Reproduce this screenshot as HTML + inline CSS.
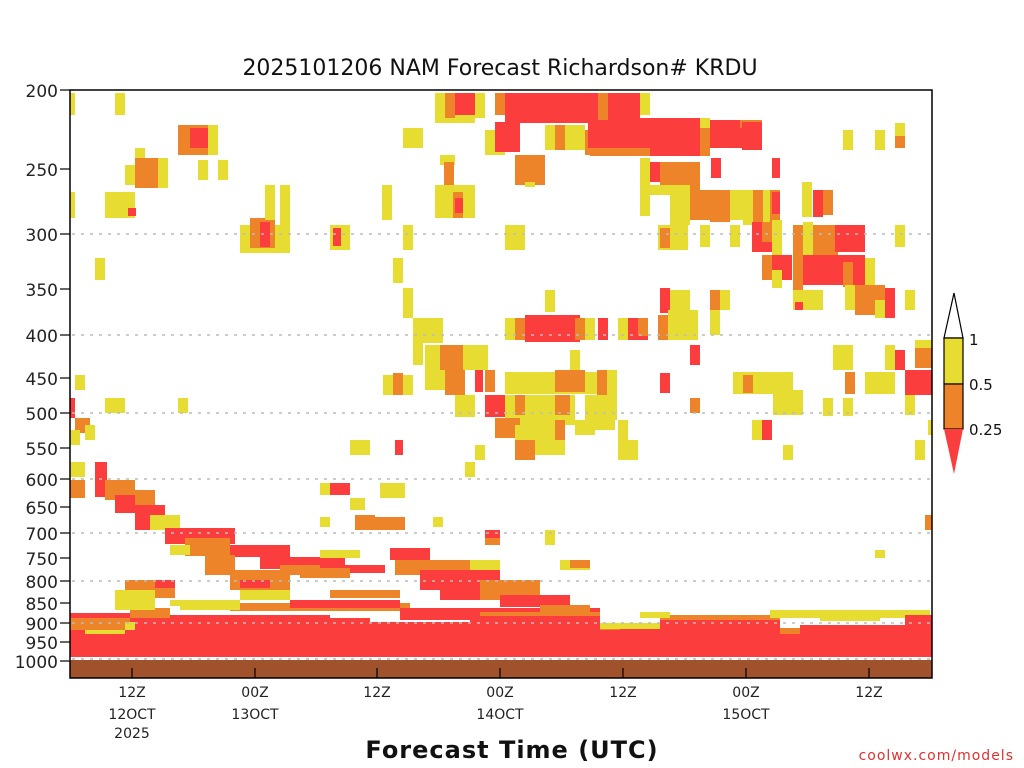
<!DOCTYPE html>
<html><head><meta charset="utf-8"><style>
body{margin:0;background:#fff;}
svg{display:block;font-family:"DejaVu Sans","Liberation Sans",sans-serif;}
.r{fill:#fc3d3d}.o{fill:#ee842a}.y{fill:#e6dc32}
</style></head><body>
<svg width="1024" height="768" viewBox="0 0 1024 768">
<text x="500" y="75" font-size="22" text-anchor="middle" fill="#111">2025101206 NAM Forecast Richardson# KRDU</text>
<g>
<rect class="r" x="70" y="628" width="862" height="31"/>
<rect class="o" x="70" y="618" width="60" height="12"/>
<rect class="r" x="70" y="613" width="60" height="5"/>
<rect class="y" x="85" y="630" width="40" height="4"/>
<rect class="r" x="130" y="615" width="200" height="15"/>
<rect class="o" x="130" y="608" width="40" height="10"/>
<rect class="y" x="125" y="622" width="10" height="8"/>
<rect class="r" x="170" y="618" width="200" height="10"/>
<rect class="r" x="330" y="622" width="180" height="8"/>
<rect class="o" x="230" y="603" width="180" height="8"/>
<rect class="y" x="170" y="600" width="60" height="6"/>
<rect class="r" x="400" y="608" width="200" height="12"/>
<rect class="o" x="480" y="612" width="120" height="8"/>
<rect class="r" x="470" y="616" width="130" height="14"/>
<rect class="o" x="600" y="625" width="20" height="8"/>
<rect class="y" x="600" y="623" width="180" height="6"/>
<rect class="r" x="600" y="630" width="200" height="12"/>
<rect class="r" x="660" y="620" width="120" height="10"/>
<rect class="o" x="660" y="615" width="120" height="5"/>
<rect class="y" x="640" y="612" width="30" height="6"/>
<rect class="y" x="770" y="610" width="160" height="8"/>
<rect class="o" x="780" y="628" width="100" height="6"/>
<rect class="r" x="800" y="625" width="132" height="15"/>
<rect class="r" x="905" y="615" width="27" height="20"/>
<rect class="y" x="820" y="615" width="60" height="6"/>
<rect class="o" x="70" y="480" width="15" height="18"/>
<rect class="r" x="95" y="462" width="12" height="35"/>
<rect class="o" x="105" y="480" width="30" height="20"/>
<rect class="r" x="115" y="495" width="25" height="18"/>
<rect class="o" x="135" y="490" width="20" height="15"/>
<rect class="r" x="135" y="505" width="30" height="25"/>
<rect class="y" x="150" y="515" width="30" height="15"/>
<rect class="r" x="165" y="528" width="70" height="16"/>
<rect class="o" x="185" y="538" width="45" height="18"/>
<rect class="y" x="170" y="545" width="20" height="10"/>
<rect class="r" x="230" y="545" width="60" height="12"/>
<rect class="o" x="205" y="555" width="30" height="20"/>
<rect class="r" x="260" y="557" width="85" height="12"/>
<rect class="o" x="280" y="565" width="40" height="10"/>
<rect class="r" x="345" y="565" width="40" height="8"/>
<rect class="o" x="300" y="568" width="50" height="10"/>
<rect class="y" x="320" y="550" width="40" height="8"/>
<rect class="r" x="390" y="548" width="40" height="12"/>
<rect class="o" x="395" y="560" width="105" height="15"/>
<rect class="r" x="420" y="570" width="80" height="20"/>
<rect class="r" x="440" y="585" width="60" height="15"/>
<rect class="o" x="480" y="580" width="60" height="20"/>
<rect class="y" x="470" y="560" width="30" height="10"/>
<rect class="o" x="485" y="535" width="15" height="10"/>
<rect class="r" x="485" y="530" width="15" height="8"/>
<rect class="r" x="500" y="595" width="70" height="12"/>
<rect class="o" x="540" y="605" width="50" height="10"/>
<rect class="y" x="560" y="560" width="30" height="10"/>
<rect class="o" x="570" y="560" width="20" height="8"/>
<rect class="o" x="125" y="580" width="50" height="18"/>
<rect class="r" x="155" y="580" width="20" height="8"/>
<rect class="y" x="115" y="590" width="40" height="20"/>
<rect class="o" x="230" y="570" width="60" height="20"/>
<rect class="r" x="240" y="580" width="30" height="8"/>
<rect class="y" x="240" y="590" width="50" height="10"/>
<rect class="y" x="180" y="600" width="60" height="10"/>
<rect class="r" x="290" y="600" width="110" height="8"/>
<rect class="o" x="330" y="590" width="70" height="8"/>
<rect class="r" x="330" y="483" width="20" height="12"/>
<rect class="y" x="320" y="483" width="10" height="12"/>
<rect class="y" x="350" y="498" width="15" height="12"/>
<rect class="o" x="355" y="515" width="20" height="15"/>
<rect class="o" x="375" y="517" width="30" height="13"/>
<rect class="y" x="380" y="483" width="25" height="15"/>
<rect class="r" x="395" y="440" width="8" height="15"/>
<rect class="y" x="350" y="440" width="20" height="15"/>
<rect class="y" x="320" y="517" width="10" height="10"/>
<rect class="y" x="433" y="517" width="10" height="10"/>
<rect class="y" x="545" y="530" width="10" height="15"/>
<rect class="o" x="925" y="515" width="7" height="15"/>
<rect class="y" x="875" y="550" width="10" height="8"/>
<rect class="r" x="70" y="398" width="5" height="20"/>
<rect class="o" x="75" y="418" width="15" height="15"/>
<rect class="y" x="85" y="425" width="10" height="15"/>
<rect class="y" x="70" y="430" width="10" height="15"/>
<rect class="y" x="75" y="375" width="10" height="15"/>
<rect class="y" x="105" y="398" width="20" height="15"/>
<rect class="y" x="178" y="398" width="10" height="15"/>
<rect class="y" x="70" y="462" width="15" height="15"/>
<rect class="y" x="70" y="93" width="5" height="22"/>
<rect class="y" x="115" y="93" width="10" height="22"/>
<rect class="y" x="70" y="192" width="5" height="26"/>
<rect class="y" x="105" y="192" width="30" height="26"/>
<rect class="r" x="128" y="208" width="8" height="8"/>
<rect class="o" x="135" y="158" width="25" height="30"/>
<rect class="y" x="125" y="165" width="10" height="20"/>
<rect class="y" x="158" y="158" width="10" height="30"/>
<rect class="y" x="135" y="148" width="10" height="10"/>
<rect class="y" x="178" y="125" width="40" height="30"/>
<rect class="o" x="178" y="125" width="30" height="30"/>
<rect class="r" x="190" y="128" width="18" height="20"/>
<rect class="y" x="198" y="160" width="10" height="20"/>
<rect class="y" x="218" y="160" width="10" height="20"/>
<rect class="y" x="95" y="258" width="10" height="22"/>
<rect class="y" x="240" y="225" width="50" height="28"/>
<rect class="o" x="250" y="218" width="25" height="30"/>
<rect class="r" x="260" y="222" width="10" height="25"/>
<rect class="y" x="265" y="185" width="10" height="35"/>
<rect class="y" x="280" y="185" width="10" height="40"/>
<rect class="y" x="330" y="225" width="20" height="25"/>
<rect class="r" x="333" y="228" width="8" height="18"/>
<rect class="y" x="382" y="185" width="10" height="35"/>
<rect class="y" x="403" y="225" width="10" height="25"/>
<rect class="y" x="393" y="258" width="10" height="25"/>
<rect class="y" x="403" y="288" width="10" height="30"/>
<rect class="y" x="403" y="128" width="20" height="20"/>
<rect class="y" x="413" y="318" width="30" height="25"/>
<rect class="y" x="435" y="93" width="40" height="30"/>
<rect class="o" x="445" y="93" width="10" height="25"/>
<rect class="r" x="455" y="93" width="20" height="22"/>
<rect class="y" x="475" y="93" width="10" height="25"/>
<rect class="o" x="495" y="93" width="10" height="22"/>
<rect class="r" x="505" y="93" width="95" height="30"/>
<rect class="r" x="600" y="93" width="40" height="30"/>
<rect class="o" x="598" y="93" width="10" height="28"/>
<rect class="y" x="640" y="93" width="10" height="22"/>
<rect class="y" x="485" y="130" width="20" height="25"/>
<rect class="r" x="495" y="122" width="25" height="30"/>
<rect class="y" x="545" y="125" width="40" height="25"/>
<rect class="o" x="555" y="125" width="10" height="25"/>
<rect class="o" x="585" y="130" width="15" height="25"/>
<rect class="r" x="588" y="120" width="172" height="28"/>
<rect class="r" x="640" y="118" width="60" height="38"/>
<rect class="o" x="590" y="148" width="60" height="8"/>
<rect class="o" x="700" y="128" width="10" height="28"/>
<rect class="y" x="700" y="118" width="10" height="10"/>
<rect class="o" x="740" y="120" width="22" height="8"/>
<rect class="r" x="742" y="122" width="20" height="28"/>
<rect class="y" x="843" y="130" width="10" height="20"/>
<rect class="y" x="875" y="130" width="10" height="20"/>
<rect class="y" x="895" y="123" width="10" height="25"/>
<rect class="o" x="895" y="136" width="10" height="12"/>
<rect class="y" x="440" y="155" width="15" height="10"/>
<rect class="o" x="444" y="162" width="10" height="25"/>
<rect class="o" x="515" y="155" width="30" height="30"/>
<rect class="y" x="525" y="182" width="10" height="5"/>
<rect class="y" x="435" y="185" width="40" height="33"/>
<rect class="o" x="453" y="192" width="10" height="26"/>
<rect class="r" x="455" y="198" width="8" height="15"/>
<rect class="y" x="640" y="158" width="10" height="58"/>
<rect class="r" x="650" y="162" width="10" height="20"/>
<rect class="o" x="660" y="162" width="40" height="30"/>
<rect class="y" x="650" y="185" width="40" height="10"/>
<rect class="o" x="690" y="190" width="30" height="30"/>
<rect class="y" x="670" y="190" width="20" height="35"/>
<rect class="y" x="720" y="190" width="30" height="30"/>
<rect class="o" x="710" y="190" width="20" height="32"/>
<rect class="r" x="711" y="158" width="10" height="20"/>
<rect class="r" x="772" y="158" width="8" height="20"/>
<rect class="y" x="743" y="190" width="30" height="35"/>
<rect class="o" x="753" y="190" width="10" height="40"/>
<rect class="o" x="770" y="190" width="10" height="40"/>
<rect class="r" x="772" y="192" width="8" height="22"/>
<rect class="y" x="802" y="182" width="10" height="35"/>
<rect class="r" x="813" y="190" width="10" height="27"/>
<rect class="o" x="823" y="190" width="10" height="25"/>
<rect class="y" x="658" y="225" width="30" height="25"/>
<rect class="o" x="660" y="228" width="10" height="20"/>
<rect class="y" x="700" y="225" width="10" height="22"/>
<rect class="y" x="730" y="225" width="10" height="22"/>
<rect class="r" x="752" y="222" width="20" height="30"/>
<rect class="o" x="762" y="222" width="10" height="20"/>
<rect class="y" x="772" y="220" width="10" height="35"/>
<rect class="o" x="793" y="225" width="10" height="30"/>
<rect class="y" x="803" y="222" width="10" height="35"/>
<rect class="o" x="813" y="225" width="25" height="30"/>
<rect class="r" x="835" y="225" width="30" height="27"/>
<rect class="y" x="895" y="225" width="10" height="22"/>
<rect class="y" x="505" y="225" width="20" height="25"/>
<rect class="o" x="762" y="255" width="10" height="25"/>
<rect class="r" x="772" y="255" width="20" height="25"/>
<rect class="y" x="772" y="270" width="10" height="18"/>
<rect class="o" x="793" y="255" width="10" height="40"/>
<rect class="r" x="803" y="255" width="62" height="30"/>
<rect class="o" x="843" y="262" width="10" height="25"/>
<rect class="y" x="865" y="258" width="10" height="30"/>
<rect class="o" x="855" y="285" width="30" height="30"/>
<rect class="y" x="845" y="285" width="10" height="25"/>
<rect class="y" x="875" y="300" width="20" height="18"/>
<rect class="r" x="885" y="288" width="10" height="30"/>
<rect class="y" x="905" y="290" width="10" height="20"/>
<rect class="y" x="793" y="290" width="20" height="20"/>
<rect class="r" x="795" y="302" width="8" height="8"/>
<rect class="y" x="813" y="290" width="10" height="20"/>
<rect class="r" x="660" y="288" width="10" height="25"/>
<rect class="y" x="670" y="290" width="20" height="50"/>
<rect class="o" x="710" y="290" width="10" height="20"/>
<rect class="y" x="720" y="290" width="10" height="20"/>
<rect class="y" x="545" y="290" width="10" height="22"/>
<rect class="y" x="505" y="318" width="10" height="22"/>
<rect class="o" x="515" y="318" width="10" height="22"/>
<rect class="r" x="525" y="315" width="55" height="27"/>
<rect class="o" x="575" y="318" width="10" height="22"/>
<rect class="y" x="585" y="318" width="10" height="22"/>
<rect class="r" x="598" y="318" width="10" height="22"/>
<rect class="y" x="618" y="318" width="10" height="22"/>
<rect class="r" x="628" y="318" width="20" height="22"/>
<rect class="o" x="638" y="318" width="10" height="18"/>
<rect class="o" x="658" y="315" width="10" height="25"/>
<rect class="y" x="668" y="310" width="30" height="30"/>
<rect class="y" x="710" y="310" width="10" height="25"/>
<rect class="r" x="690" y="345" width="10" height="20"/>
<rect class="y" x="413" y="340" width="10" height="25"/>
<rect class="y" x="425" y="345" width="40" height="45"/>
<rect class="o" x="440" y="345" width="30" height="25"/>
<rect class="o" x="445" y="370" width="20" height="25"/>
<rect class="y" x="463" y="345" width="25" height="25"/>
<rect class="y" x="383" y="375" width="10" height="20"/>
<rect class="y" x="403" y="375" width="10" height="20"/>
<rect class="o" x="393" y="373" width="10" height="22"/>
<rect class="r" x="475" y="370" width="8" height="22"/>
<rect class="o" x="485" y="370" width="10" height="22"/>
<rect class="y" x="455" y="395" width="20" height="22"/>
<rect class="y" x="505" y="372" width="100" height="22"/>
<rect class="o" x="555" y="370" width="30" height="22"/>
<rect class="y" x="570" y="350" width="10" height="20"/>
<rect class="o" x="597" y="370" width="10" height="35"/>
<rect class="y" x="607" y="370" width="10" height="50"/>
<rect class="r" x="485" y="395" width="10" height="22"/>
<rect class="r" x="495" y="395" width="10" height="22"/>
<rect class="y" x="505" y="395" width="70" height="30"/>
<rect class="o" x="515" y="395" width="10" height="20"/>
<rect class="o" x="555" y="395" width="15" height="20"/>
<rect class="y" x="585" y="395" width="30" height="35"/>
<rect class="o" x="495" y="418" width="25" height="20"/>
<rect class="y" x="515" y="425" width="50" height="30"/>
<rect class="o" x="515" y="440" width="20" height="20"/>
<rect class="o" x="555" y="420" width="10" height="20"/>
<rect class="y" x="575" y="420" width="20" height="15"/>
<rect class="y" x="618" y="420" width="10" height="25"/>
<rect class="y" x="618" y="440" width="20" height="20"/>
<rect class="y" x="475" y="445" width="10" height="15"/>
<rect class="y" x="465" y="462" width="10" height="15"/>
<rect class="r" x="660" y="373" width="10" height="20"/>
<rect class="o" x="690" y="398" width="10" height="15"/>
<rect class="y" x="733" y="372" width="60" height="22"/>
<rect class="o" x="743" y="375" width="10" height="18"/>
<rect class="y" x="773" y="390" width="30" height="25"/>
<rect class="y" x="823" y="398" width="10" height="18"/>
<rect class="y" x="843" y="398" width="10" height="18"/>
<rect class="o" x="845" y="372" width="10" height="22"/>
<rect class="y" x="833" y="345" width="20" height="25"/>
<rect class="y" x="865" y="372" width="30" height="22"/>
<rect class="y" x="885" y="345" width="10" height="25"/>
<rect class="r" x="895" y="350" width="10" height="20"/>
<rect class="y" x="915" y="340" width="17" height="22"/>
<rect class="o" x="915" y="348" width="17" height="20"/>
<rect class="r" x="905" y="370" width="27" height="25"/>
<rect class="y" x="905" y="395" width="10" height="20"/>
<rect class="y" x="752" y="420" width="20" height="20"/>
<rect class="r" x="762" y="420" width="10" height="20"/>
<rect class="y" x="783" y="445" width="10" height="15"/>
<rect class="y" x="915" y="440" width="10" height="20"/>
<rect class="y" x="928" y="420" width="4" height="15"/>
</g>
<rect x="70" y="660" width="862" height="18" fill="#a0522d"/>
<rect x="70" y="657" width="862" height="2.5" fill="#fff"/>
<g stroke="#bbb" stroke-width="1.5" stroke-dasharray="3,6">
<line x1="72" y1="234" x2="930" y2="234"/><line x1="72" y1="335" x2="930" y2="335"/>
<line x1="72" y1="413" x2="930" y2="413"/><line x1="72" y1="479" x2="930" y2="479"/>
<line x1="72" y1="533" x2="930" y2="533"/><line x1="72" y1="581" x2="930" y2="581"/>
<line x1="72" y1="623" x2="930" y2="623"/><line x1="72" y1="659" x2="930" y2="659"/>
</g>
<rect x="70" y="90" width="862" height="588" fill="none" stroke="#000" stroke-width="1.5"/>
<g stroke="#000" stroke-width="1.2">
<line x1="60" y1="90" x2="70" y2="90"/><line x1="60" y1="169" x2="70" y2="169"/>
<line x1="60" y1="234" x2="70" y2="234"/><line x1="60" y1="289" x2="70" y2="289"/>
<line x1="60" y1="335" x2="70" y2="335"/><line x1="60" y1="378" x2="70" y2="378"/>
<line x1="60" y1="413" x2="70" y2="413"/><line x1="60" y1="448" x2="70" y2="448"/>
<line x1="60" y1="479" x2="70" y2="479"/><line x1="60" y1="507" x2="70" y2="507"/>
<line x1="60" y1="533" x2="70" y2="533"/><line x1="60" y1="558" x2="70" y2="558"/>
<line x1="60" y1="581" x2="70" y2="581"/><line x1="60" y1="603" x2="70" y2="603"/>
<line x1="60" y1="623" x2="70" y2="623"/><line x1="60" y1="642" x2="70" y2="642"/>
<line x1="60" y1="661" x2="70" y2="661"/>
<line x1="132" y1="678" x2="132" y2="668"/><line x1="255" y1="678" x2="255" y2="668"/>
<line x1="377" y1="678" x2="377" y2="668"/><line x1="500" y1="678" x2="500" y2="668"/>
<line x1="623" y1="678" x2="623" y2="668"/><line x1="746" y1="678" x2="746" y2="668"/>
<line x1="869" y1="678" x2="869" y2="668"/>
</g>
<g font-size="17" fill="#222" text-anchor="end">
<text x="58" y="97">200</text><text x="58" y="176">250</text><text x="58" y="241">300</text>
<text x="58" y="296">350</text><text x="58" y="342">400</text><text x="58" y="385">450</text>
<text x="58" y="420">500</text><text x="58" y="455">550</text><text x="58" y="486">600</text>
<text x="58" y="514">650</text><text x="58" y="540">700</text><text x="58" y="565">750</text>
<text x="58" y="588">800</text><text x="58" y="610">850</text><text x="58" y="630">900</text>
<text x="58" y="649">950</text><text x="58" y="668">1000</text>
</g>
<g font-size="14" fill="#222" text-anchor="middle">
<text x="132" y="697">12Z</text><text x="132" y="719">12OCT</text><text x="132" y="738">2025</text>
<text x="255" y="697">00Z</text><text x="255" y="719">13OCT</text>
<text x="377" y="697">12Z</text>
<text x="500" y="697">00Z</text><text x="500" y="719">14OCT</text>
<text x="623" y="697">12Z</text>
<text x="746" y="697">00Z</text><text x="746" y="719">15OCT</text>
<text x="869" y="697">12Z</text>
</g>
<text x="512" y="758" font-size="24" text-anchor="middle" font-weight="bold" fill="#111" letter-spacing="1">Forecast Time (UTC)</text>
<text x="1014" y="760" font-size="14" text-anchor="end" fill="#e03030" letter-spacing="1">coolwx.com/models</text>
<polygon points="944,338 954,293 963,338" fill="#fff" stroke="#000" stroke-width="1.2"/>
<rect x="944" y="338" width="19" height="46" fill="#e6dc32" stroke="#000" stroke-width="1.2"/>
<rect x="944" y="384" width="19" height="45" fill="#ee842a" stroke="#000" stroke-width="1.2"/>
<polygon points="944,429 963,429 954,474" fill="#fc3d3d"/>
<g font-size="15" fill="#111"><text x="969" y="345">1</text><text x="969" y="390">0.5</text><text x="969" y="435">0.25</text></g>
</svg>
</body></html>
